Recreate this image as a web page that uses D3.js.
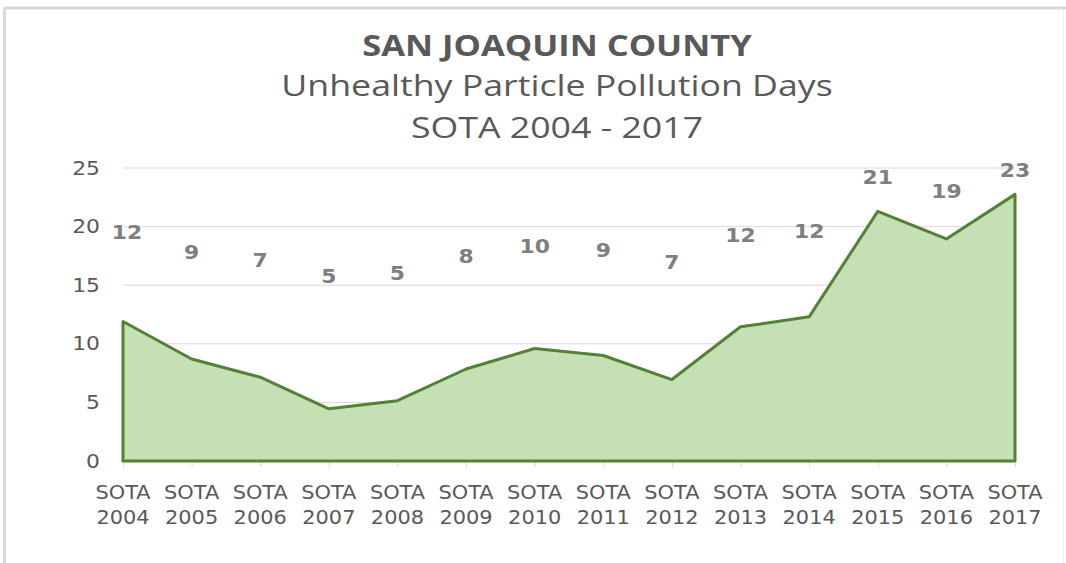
<!DOCTYPE html>
<html>
<head>
<meta charset="utf-8">
<script src="https://cdn.jsdelivr.net/npm/d3@7"></script>
<style>
  body { margin: 0; background: #fff; }
  svg { display: block; }
</style>
</head>
<body>
<svg id="chart" width="1066" height="563"></svg>
<script>
// Data
var years = ['2004', '2005', '2006', '2007', '2008', '2009', '2010', '2011', '2012', '2013', '2014', '2015', '2016', '2017']
var days = [11.9, 8.7, 7.15, 4.45, 5.15, 7.85, 9.6, 9.0, 6.95, 11.45, 12.3, 21.3, 18.95, 22.75]
var labels = ['12', '9', '7', '5', '5', '8', '10', '9', '7', '12', '12', '21', '19', '23']
// where the value labels sit, in axis units
var labelAt = [19.5, 17.85, 17.1, 15.8, 16.05, 17.45, 18.35, 18.0, 17.0, 19.3, 19.6, 24.2, 23.0, 24.85]
var yTicks = [0, 5, 10, 15, 20, 25]
var titleLines = ['SAN JOAQUIN COUNTY', 'Unhealthy Particle Pollution Days', 'SOTA 2004 - 2017']

var svg = d3.select('#chart')

// the picture is a bit wide, so text gets stretched sideways about its anchor
var stretch = function(sel, s, cx){
  sel.attr('transform', function(d, i){
    var c = cx(d, i)
    return 'translate(' + c + ',0) scale(' + s + ',1) translate(' + (-c) + ',0)'
  })
}

// frame
svg.append('line').attr('x1', 4).attr('x2', 1066).attr('y1', 8).attr('y2', 8)
  .attr('stroke', '#d9d9d9').attr('stroke-width', 3)
svg.append('line').attr('x1', 4.5).attr('x2', 4.5).attr('y1', 7).attr('y2', 563)
  .attr('stroke', '#d9d9d9').attr('stroke-width', 3)
svg.append('line').attr('x1', 1063.5).attr('x2', 1063.5).attr('y1', 9).attr('y2', 563)
  .attr('stroke', '#efefef').attr('stroke-width', 1)

// titles
var titleY = [56, 96, 138]
var titleSize = [29, 30, 30]
var titles = svg.append('g').selectAll('text').data(titleLines).enter().append('text')
  .attr('x', 557).attr('y', function(d, i){ return titleY[i] })
  .attr('text-anchor', 'middle')
  .attr('font-family', "'Open Sans', sans-serif")
  .attr('font-size', function(d, i){ return titleSize[i] })
  .attr('font-weight', function(d, i){ return i == 0 ? 'bold' : 'normal' })
  .attr('fill', '#595959')
  .text(function(d){ return d })
stretch(titles, 1.19, function(){ return 557 })

// scales
var x = d3.scalePoint().domain(years).range([123, 1015])
var y = d3.scaleLinear().domain([0, 25]).range([461, 168])

// gridlines
svg.append('g').selectAll('line').data(yTicks.slice(1)).enter().append('line')
  .attr('x1', 123).attr('x2', 1015)
  .attr('y1', function(d){ return y(d) }).attr('y2', function(d){ return y(d) })
  .attr('stroke', '#d9d9d9').attr('stroke-width', 1)

// y axis labels
var yAxis = d3.axisLeft(y).tickValues(yTicks).tickSize(0).tickPadding(0)
var gy = svg.append('g').attr('transform', 'translate(100,0)').call(yAxis)
gy.select('.domain').remove()
var ytext = gy.selectAll('text')
  .attr('font-family', "'DejaVu Sans', sans-serif")
  .attr('font-size', 19)
  .attr('fill', '#595959')
stretch(ytext, 1.15, function(){ return 0 })

// x axis
var xAxis = d3.axisBottom(x).tickSize(6).tickFormat('')
var gx = svg.append('g').attr('transform', 'translate(0,461)').call(xAxis)
gx.select('.domain').attr('stroke', '#d9d9d9').attr('d', 'M123,0.5H1015')
gx.selectAll('.tick line').attr('stroke', '#d9d9d9')

// category labels on two lines
var cat = svg.append('g').selectAll('text').data(years).enter().append('text')
  .attr('x', function(d){ return x(d) })
  .attr('text-anchor', 'middle')
  .attr('font-family', "'DejaVu Sans', sans-serif")
  .attr('font-size', 19)
  .attr('fill', '#595959')
cat.append('tspan').attr('x', function(d){ return x(d) }).attr('y', 499).text('SOTA')
cat.append('tspan').attr('x', function(d){ return x(d) }).attr('y', 524).text(function(d){ return d })
stretch(cat, 1.1, function(d){ return x(d) })

// area
var area = d3.area()
  .x(function(d, i){ return x(years[i]) })
  .y0(y(0))
  .y1(function(d){ return y(d) })

svg.append('path')
  .datum(days)
  .attr('d', function(d){ return area(d) + 'Z' })
  .attr('fill', '#c5e0b4')
  .attr('stroke', '#548235')
  .attr('stroke-width', 3)
  .attr('stroke-linejoin', 'round')

// value labels
var labelX = function(d, i){ return x(years[i]) + (i == 0 ? 4 : 0) }
var vals = svg.append('g').selectAll('text').data(labels).enter().append('text')
  .attr('x', labelX)
  .attr('y', function(d, i){ return y(labelAt[i]) })
  .attr('dy', '0.36em')
  .attr('text-anchor', 'middle')
  .attr('font-family', "'DejaVu Sans', sans-serif")
  .attr('font-weight', 'bold')
  .attr('font-size', 19)
  .attr('fill', '#7f7f7f')
  .text(function(d){ return d })
stretch(vals, 1.15, labelX)
</script>
</body>
</html>
